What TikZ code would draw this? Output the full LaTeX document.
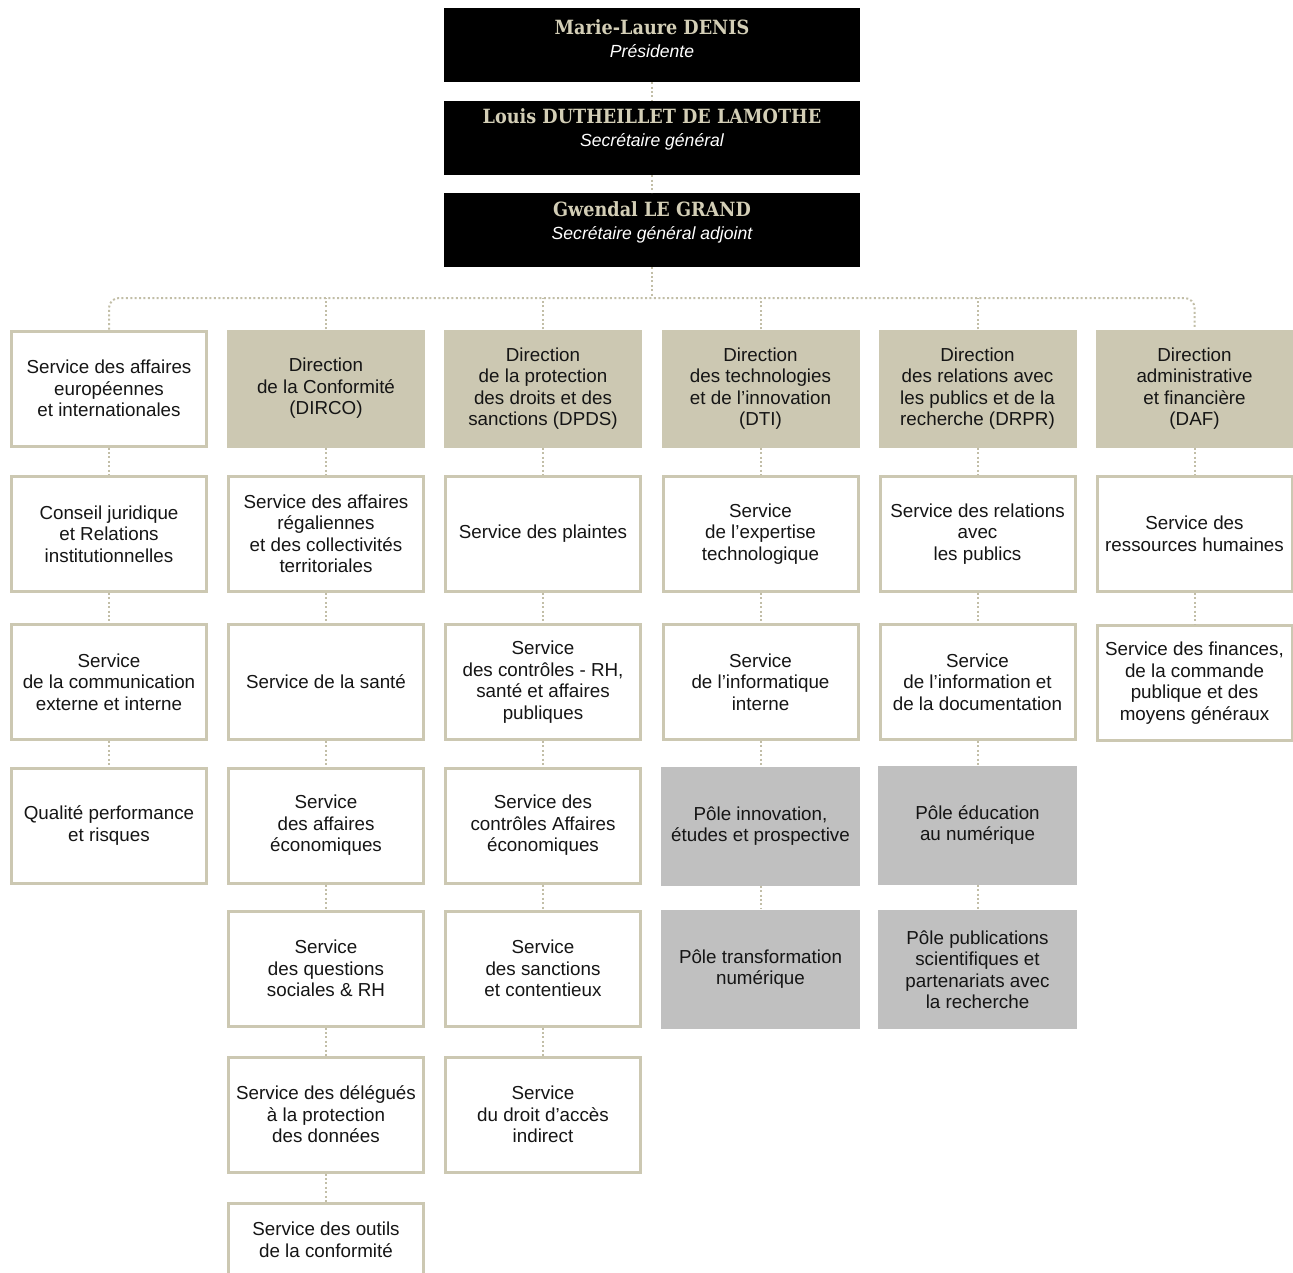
\documentclass[tikz,border=0pt]{standalone}
\usepackage{fontspec}
\setmainfont{Liberation Sans}
\newfontfamily\slab[FakeStretch=0.9]{DejaVu Serif}
\definecolor{beige}{HTML}{CCC8B2}
\definecolor{beigeline}{HTML}{C2BEA7}
\definecolor{beigetext}{HTML}{D3CEB6}
\definecolor{pole}{HTML}{C0C0C0}
\definecolor{ink}{HTML}{151515}
\newcommand{\nmtext}[1]{{\color{beigetext}\slab\bfseries\fontsize{19.6}{23}\selectfont #1}}
\newcommand{\roletext}[1]{{\color{white}\itshape\fontsize{17.6}{23}\selectfont #1}}
\begin{document}
\begin{tikzpicture}[x=1pt,y=-1pt,
  txt/.style={align=center,text=ink,font=\fontsize{18.8}{21.5}\selectfont},
  wbox/.style={txt,draw=beige,line width=3pt,fill=white,minimum width=195pt,minimum height=115pt,inner sep=0pt},
  dbox/.style={txt,fill=beige,minimum width=198pt,minimum height=118pt,inner sep=0pt},
  pbox/.style={txt,fill=pole,minimum width=199pt,minimum height=119pt,inner sep=0pt},
  topbox/.style={fill=black,minimum width=416pt,minimum height=74pt,inner sep=0pt},
  toptext/.style={align=center,inner sep=0pt,font=\fontsize{19}{23}\selectfont},
  conn/.style={draw=beigeline,line width=2pt,dash pattern=on 2pt off 2.4pt}]
\useasboundingbox (0,0) rectangle (1293,1272);
\clip (0,0) rectangle (1293,1272);
\def\cA{109}\def\cB{326}\def\cC{543}\def\cD{760.5}\def\cE{977.5}\def\cF{1194.5}
\def\rA{388.5}\def\rB{534}\def\rC{682}\def\rD{825.5}\def\rE{968.5}\def\rF{1114.5}
% top
\node[topbox] (pres) at (652,45) {};
\node[toptext] (prest) at (652,39) {\nmtext{Marie-Laure DENIS}\\\roletext{Présidente}};
\node[topbox] (sg) at (652,138) {};
\node[toptext] (sgt) at (652,129) {\nmtext{Louis DUTHEILLET DE LAMOTHE}\\\roletext{Secrétaire général}};
\node[topbox] (sga) at (652,230) {};
\node[toptext] (sgat) at (652,222) {\nmtext{Gwendal LE GRAND}\\\roletext{Secrétaire général adjoint}};
% column 1
\node[wbox] (a1) at (\cA,\rA) {Service des affaires\\européennes\\et internationales};
\node[wbox] (a2) at (\cA,\rB) {Conseil juridique\\et Relations\\institutionnelles};
\node[wbox] (a3) at (\cA,\rC) {Service\\de la communication\\externe et interne};
\node[wbox] (a4) at (\cA,\rD) {Qualité performance\\et risques};
% column 2
\node[dbox] (b1) at (\cB,\rA) {Direction\\de la Conformité\\(DIRCO)};
\node[wbox] (b2) at (\cB,\rB) {Service des affaires\\régaliennes\\et des collectivités\\territoriales};
\node[wbox] (b3) at (\cB,\rC) {Service de la santé};
\node[wbox] (b4) at (\cB,\rD) {Service\\des affaires\\économiques};
\node[wbox] (b5) at (\cB,\rE) {Service\\des questions\\sociales \& RH};
\node[wbox] (b6) at (\cB,\rF) {Service des délégués\\à la protection\\des données};
\node[wbox,minimum height=73pt] (b7) at (\cB,1240) {Service des outils\\de la conformité};
% column 3
\node[dbox] (c1) at (\cC,\rA) {Direction\\de la protection\\des droits et des\\sanctions (DPDS)};
\node[wbox] (c2) at (\cC,\rB) {Service des plaintes};
\node[wbox] (c3) at (\cC,\rC) {Service\\des contrôles - RH,\\santé et affaires\\publiques};
\node[wbox] (c4) at (\cC,\rD) {Service des\\contrôles Affaires\\économiques};
\node[wbox] (c5) at (\cC,\rE) {Service\\des sanctions\\et contentieux};
\node[wbox] (c6) at (\cC,\rF) {Service\\du droit d’accès\\indirect};
% column 4
\node[dbox] (d1) at (\cD,\rA) {Direction\\des technologies\\et de l’innovation\\(DTI)};
\node[wbox] (d2) at (\cD,\rB) {Service\\de l’expertise\\technologique};
\node[wbox] (d3) at (\cD,\rC) {Service\\de l’informatique\\interne};
\node[pbox] (d4) at (\cD,826) {Pôle innovation,\\études et prospective};
\node[pbox] (d5) at (\cD,969) {Pôle transformation\\numérique};
% column 5
\node[dbox] (e1) at (\cE,\rA) {Direction\\des relations avec\\les publics et de la\\recherche (DRPR)};
\node[wbox] (e2) at (\cE,\rB) {Service des relations\\avec\\les publics};
\node[wbox] (e3) at (\cE,\rC) {Service\\de l’information et\\de la documentation};
\node[pbox] (e4) at (\cE,825) {Pôle éducation\\au numérique};
\node[pbox] (e5) at (\cE,969.5) {Pôle publications\\scientifiques et\\partenariats avec\\la recherche};
% column 6
\node[dbox] (f1) at (\cF,\rA) {Direction\\administrative\\et financière\\(DAF)};
\node[wbox] (f2) at (\cF,\rB) {Service des\\ressources humaines};
\node[wbox] (f3) at (\cF,683) {Service des finances,\\de la commande\\publique et des\\moyens généraux};
% connectors
\coordinate (bus) at (652,298);
\draw[conn] (pres.south) -- (sg.north);
\draw[conn] (sg.south) -- (sga.north);
\draw[conn] (sga.south) -- (bus);
\draw[conn,rounded corners=10pt] (a1.north) |- (bus) -| (f1.north);
\foreach \n in {b1,c1,d1,e1}{\draw[conn] (\n.north) -- (\n.north |- bus);}
\foreach \u/\v in {a1/a2,a2/a3,a3/a4,
  b1/b2,b2/b3,b3/b4,b4/b5,b5/b6,b6/b7,
  c1/c2,c2/c3,c3/c4,c4/c5,c5/c6,
  d1/d2,d2/d3,d3/d4,d4/d5,
  e1/e2,e2/e3,e3/e4,e4/e5,
  f1/f2,f2/f3}{\draw[conn] (\u.south) -- (\v.north);}
\end{tikzpicture}
\end{document}
